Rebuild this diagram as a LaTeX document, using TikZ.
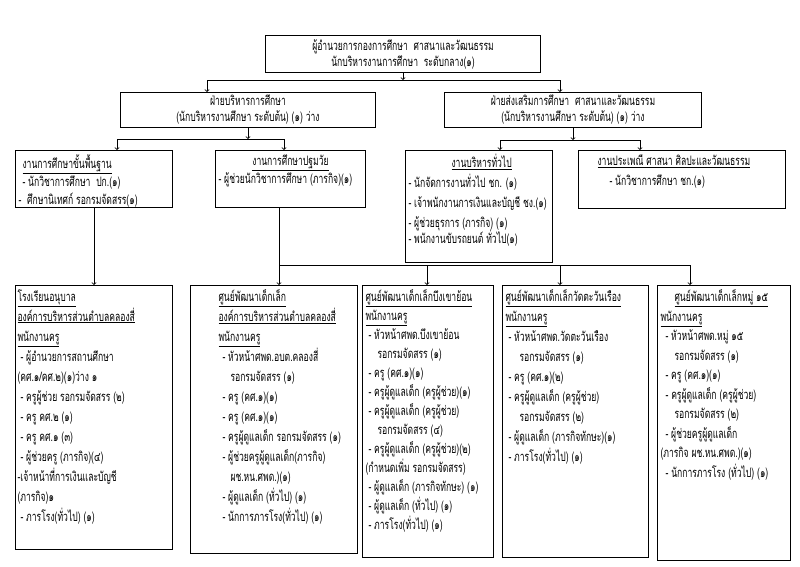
\documentclass[tikz,border=0pt]{standalone}
\usepackage{fontspec}
\newfontfamily\thaifont[Script=Thai,FakeStretch=0.66]{Loma}
\usetikzlibrary{positioning}
\tikzstyle{head} = [rectangle, draw=black, line width=1pt, align=center, inner sep=0pt, font=\thaifont\fontsize{13}{16}\selectfont]
\tikzstyle{unit} = [rectangle, draw=black, line width=1pt, anchor=north west, inner xsep=3pt, inner ysep=4pt, font=\thaifont\fontsize{13}{20}\selectfont]
\tikzstyle{wire} = [line width=0.8pt]
\tikzstyle{link} = [line width=0.8pt,->,>=to]
\newcommand{\cellbox}[3]{\parbox[t][#2pt][t]{#1pt}{\raggedright#3}}

\begin{document}
\begin{tikzpicture}[x=1pt,y=-1pt]
    \useasboundingbox (0,0) rectangle (800,566);

    \node (director) [head, minimum width=275, minimum height=37, anchor=north west] at (265,35) {ผู้อำนวยการกองการศึกษา\ \ ศาสนาและวัฒนธรรม\\นักบริหารงานการศึกษา\ \ ระดับกลาง(๑)};
    \node (admin) [head, minimum width=255, minimum height=35, anchor=north west] at (120,92) {ฝ่ายบริหารการศึกษา\\(นักบริหารงานศึกษา ระดับต้น) (๑) ว่าง};
    \node (promo) [head, minimum width=257, minimum height=35, right=68pt of admin] {ฝ่ายส่งเสริมการศึกษา\ \ ศาสนาและวัฒนธรรม\\(นักบริหารงานศึกษา ระดับต้น) (๑) ว่าง};

    \node (basic) [unit] at (15,150) {\cellbox{151}{49}{\fontsize{13}{18}\selectfont
        \hspace*{4pt}\underline{งานการศึกษาขั้นพื้นฐาน}\\
        \hspace*{4pt}- นักวิชาการศึกษา\ \ ปก.(๑)\\
        -\ \ ศึกษานิเทศก์ รอกรมจัดสรร(๑)}};
    \node (early) [unit] at (215,150) {\cellbox{144}{49}{\fontsize{13}{18}\selectfont
        \centering\underline{งานการศึกษาปฐมวัย}\\
        \raggedright - ผู้ช่วยนักวิชาการศึกษา (ภารกิจ)(๑)}};
    \node (general) [unit, inner xsep=2pt] at (405,150) {\cellbox{143}{104}{\fontsize{13}{20}\selectfont
        \hspace*{44pt}\underline{งานบริหารทั่วไป}\\
        \hspace*{1pt}- นักจัดการงานทั่วไป ชก. (๑)\\
        \hspace*{1pt}- เจ้าพนักงานการเงินและบัญชี ชง.(๑)\\
        \hspace*{1pt}- ผู้ช่วยธุรการ (ภารกิจ) (๑)\\[-4pt]
        \hspace*{1pt}- พนักงานขับรถยนต์ ทั่วไป(๑)}};
    \node (culture) [unit] at (578,150) {\cellbox{201}{50}{\fontsize{13}{20}\selectfont
        \hspace*{16pt}\underline{งานประเพณี ศาสนา ศิลปะและวัฒนธรรม}\\
        \hspace*{28pt}- นักวิชาการศึกษา ชก.(๑)}};

    \node (kinder) [unit, inner xsep=2pt] at (15,285) {\cellbox{153}{256}{
        \underline{โรงเรียนอนุบาล}\\
        \underline{องค์การบริหารส่วนตำบลคลองสี่}\\
        \underline{พนักงานครู}\\
        \hspace*{3pt}- ผู้อำนวยการสถานศึกษา\\
        (คศ.๑/คศ.๒)(๑)ว่าง ๑\\
        \hspace*{3pt}- ครูผู้ช่วย รอกรมจัดสรร (๒)\\
        \hspace*{3pt}- ครู คศ.๒ (๑)\\
        \hspace*{3pt}- ครู คศ.๑ (๓)\\
        \hspace*{3pt}- ผู้ช่วยครู (ภารกิจ)(๔)\\
        -เจ้าหน้าที่การเงินและบัญชี\\
        (ภารกิจ)๑\\
        \hspace*{3pt}- ภารโรง(ทั่วไป) (๑)}};
    \node (cdc1) [unit] at (190,285) {\cellbox{161}{260}{\leftskip=25pt
        \underline{ศูนย์พัฒนาเด็กเล็ก}\\
        \underline{องค์การบริหารส่วนตำบลคลองสี่}\\
        \underline{พนักงานครู}\\
        \hspace*{4pt}- หัวหน้าศพด.อบต.คลองสี่\\
        \hspace*{12pt}รอกรมจัดสรร (๑)\\
        \hspace*{4pt}- ครู (คศ.๑)(๑)\\
        \hspace*{4pt}- ครู (คศ.๑)(๑)\\
        \hspace*{4pt}- ครูผู้ดูแลเด็ก รอกรมจัดสรร (๑)\\
        \hspace*{4pt}- ผู้ช่วยครูผู้ดูแลเด็ก(ภารกิจ)\\
        \hspace*{12pt}ผช.หน.ศพด.)(๑)\\
        \hspace*{4pt}- ผู้ดูแลเด็ก (ทั่วไป) (๑)\\
        \hspace*{4pt}- นักการภารโรง(ทั่วไป) (๑)}};
    \node (cdc2) [unit] at (362,285) {\cellbox{125}{264}{\fontsize{13}{19}\selectfont
        \underline{ศูนย์พัฒนาเด็กเล็กบึงเขาย้อน}\\
        \underline{พนักงานครู}\\
        \hspace*{3pt}- หัวหน้าศพด.บึงเขาย้อน\\
        \hspace*{12pt}รอกรมจัดสรร (๑)\\
        \hspace*{3pt}- ครู (คศ.๑)(๑)\\
        \hspace*{3pt}- ครูผู้ดูแลเด็ก (ครูผู้ช่วย)(๑)\\
        \hspace*{3pt}- ครูผู้ดูแลเด็ก (ครูผู้ช่วย)\\
        \hspace*{12pt}รอกรมจัดสรร (๔)\\
        \hspace*{3pt}- ครูผู้ดูแลเด็ก (ครูผู้ช่วย)(๒)\\
        (กำหนดเพิ่ม รอกรมจัดสรร)\\
        \hspace*{3pt}- ผู้ดูแลเด็ก (ภารกิจทักษะ) (๑)\\
        \hspace*{3pt}- ผู้ดูแลเด็ก (ทั่วไป) (๑)\\
        \hspace*{3pt}- ภารโรง(ทั่วไป) (๑)}};
    \node (cdc3) [unit] at (502,285) {\cellbox{140}{264}{
        \underline{ศูนย์พัฒนาเด็กเล็กวัดตะวันเรือง}\\
        \underline{พนักงานครู}\\
        \hspace*{3pt}- หัวหน้าศพด.วัดตะวันเรือง\\
        \hspace*{14pt}รอกรมจัดสรร (๑)\\
        \hspace*{3pt}- ครู (คศ.๑)(๒)\\
        \hspace*{3pt}- ครูผู้ดูแลเด็ก (ครูผู้ช่วย)\\
        \hspace*{14pt}รอกรมจัดสรร (๒)\\
        \hspace*{3pt}- ผู้ดูแลเด็ก (ภารกิจทักษะ)(๑)\\
        \hspace*{3pt}- ภารโรง(ทั่วไป) (๑)}};
    \node (cdc4) [unit] at (657,285) {\cellbox{127}{267}{\fontsize{13}{19.5}\selectfont
        \hspace*{14pt}\underline{ศูนย์พัฒนาเด็กเล็กหมู่ ๑๕}\\
        \underline{พนักงานครู}\\
        \hspace*{5pt}- หัวหน้าศพด.หมู่ ๑๕\\
        \hspace*{14pt}รอกรมจัดสรร (๑)\\
        \hspace*{5pt}- ครู (คศ.๑)(๑)\\
        \hspace*{5pt}- ครูผู้ดูแลเด็ก (ครูผู้ช่วย)\\
        \hspace*{14pt}รอกรมจัดสรร (๒)\\
        \hspace*{5pt}- ผู้ช่วยครูผู้ดูแลเด็ก\\
        (ภารกิจ ผช.หน.ศพด.)(๑)\\
        \hspace*{5pt}- นักการภารโรง (ทั่วไป) (๑)}};

    \coordinate (t1) at (207,80);
    \coordinate (t2) at (560,80);
    \coordinate (a1) at (117,139);
    \coordinate (a2) at (284,139);
    \coordinate (p1) at (500,140);
    \coordinate (p2) at (640,140);
    \coordinate (j0) at (279,265);
    \coordinate (j1) at (427,265);
    \coordinate (j2) at (560,265);
    \coordinate (j3) at (690,265);
    \draw [link] (director.south) -- (director.south |- t1);
    \draw [wire] (t1) -- (t2);
    \draw [link] (t1) -- (t1 |- admin.north);
    \draw [link] (t2) -- (t2 |- promo.north);
    \draw [link] (admin.south) -- (admin.south |- a1);
    \draw [wire] (a1) -- (a2);
    \draw [link] (a1) -- (a1 |- basic.north);
    \draw [link] (a2) -- (a2 |- early.north);
    \draw [link] (promo.south) -- (promo.south |- p1);
    \draw [wire] (p1) -- (p2);
    \draw [link] (p1) -- (p1 |- general.north);
    \draw [link] (p2) -- (p2 |- culture.north);
    \draw [link] (basic.south) -- (basic.south |- kinder.north);
    \draw [wire] (j0 |- early.south) -- (j0) -- (j3);
    \draw [link] (j0) -- (j0 |- cdc1.north);
    \draw [link] (j1) -- (j1 |- cdc2.north);
    \draw [link] (j2) -- (j2 |- cdc3.north);
    \draw [link] (j3) -- (j3 |- cdc4.north);
\end{tikzpicture}
\end{document}
